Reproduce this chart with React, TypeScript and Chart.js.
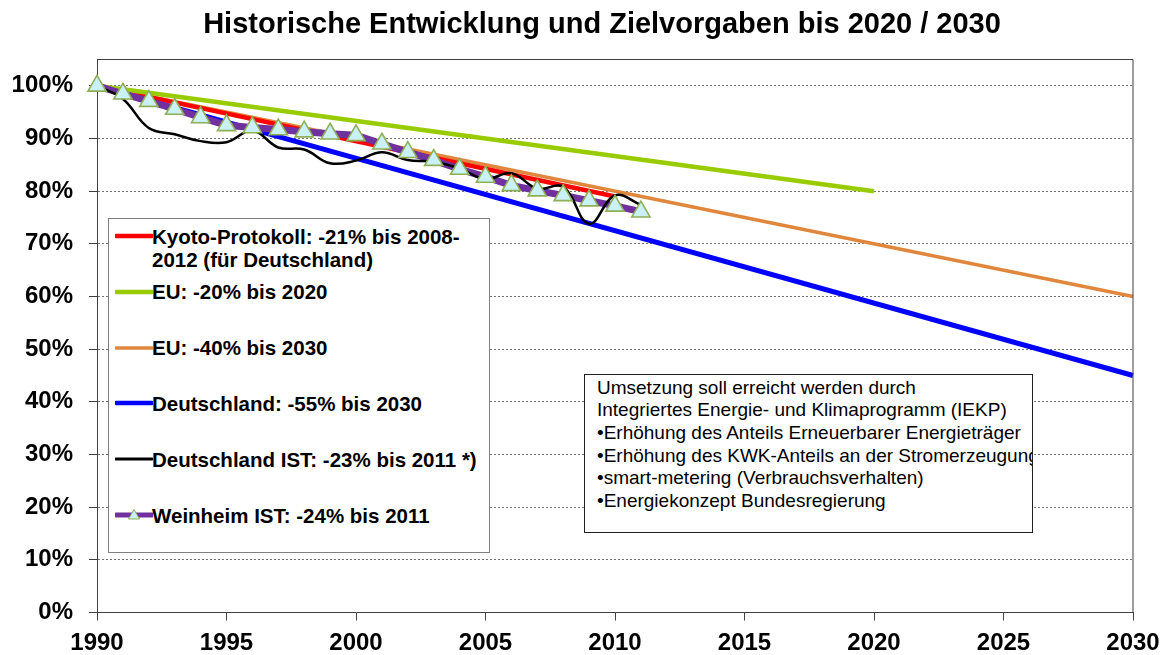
import React, { useEffect, useRef } from 'react';
import { Chart, registerables } from 'chart.js';

Chart.register(...registerables);

// ---------- data ----------
const istYears = [1990, 1991, 1992, 1993, 1994, 1995, 1996, 1997, 1998, 1999, 2000, 2001, 2002, 2003, 2004, 2005, 2006, 2007, 2008, 2009, 2010, 2011];
const deutschlandIstValues = [100, 97.5, 92, 90.8, 89.5, 89.3, 91.5, 88.3, 87.9, 85.3, 85.8, 87.4, 85.9, 85.6, 84.3, 82.3, 83.4, 80.5, 80.8, 73.8, 79.2, 77.4];
const weinheimIstValues = [100, 98.5, 97.1, 95.6, 94.0, 92.5, 92.1, 91.7, 91.3, 90.9, 90.6, 89.0, 87.4, 85.9, 84.2, 82.7, 81.1, 80.1, 79.2, 78.2, 77.2, 76.1];

const kyotoYears = [1990, 2010];
const kyotoValues = [100, 79];
const eu2020Years = [1990, 2020];
const eu2020Values = [100, 80];
const eu2030Years = [1990, 2030];
const eu2030Values = [100, 60];
const deutschlandYears = [1990, 2030];
const deutschlandValues = [100, 45];

const xMin = 1990;
const xMax = 2030;
const xStep = 5;
const yMin = 0;
const yMax = 105;
const yStep = 10;

const titleText = 'Historische Entwicklung und Zielvorgaben bis 2020 / 2030';

const legendLabels = [
  ['Kyoto-Protokoll: -21% bis 2008-', '2012 (für Deutschland)'],
  ['EU: -20% bis 2020'],
  ['EU: -40% bis 2030'],
  ['Deutschland: -55% bis 2030'],
  ['Deutschland IST: -23% bis 2011 *)'],
  ['Weinheim IST: -24% bis 2011'],
];

const noteLines = [
  'Umsetzung soll erreicht werden durch',
  'Integriertes Energie- und Klimaprogramm (IEKP)',
  '•Erhöhung des Anteils Erneuerbarer Energieträger',
  '•Erhöhung des KWK-Anteils an der Stromerzeugung',
  '•smart-metering (Verbrauchsverhalten)',
  '•Energiekonzept Bundesregierung',
];

// ---------- styles ----------
const FONT = '"Liberation Sans", Arial, Helvetica, sans-serif';
const C_RED = '#FF0000';
const C_GREEN = '#99CC00';
const C_ORANGE = '#E0873D';
const C_BLUE = '#0000FF';
const C_BLACK = '#000000';
const C_PURPLE = '#7030A0';
const C_TRI_FILL = '#C9F1F7';
const C_TRI_BORDER = '#8FAF55';

const legendStyles = [
  { color: C_RED, width: 4.5, marker: false },
  { color: C_GREEN, width: 4.5, marker: false },
  { color: C_ORANGE, width: 3.5, marker: false },
  { color: C_BLUE, width: 4.5, marker: false },
  { color: C_BLACK, width: 3, marker: false },
  { color: C_PURPLE, width: 5, marker: true },
];

const pts = (xs: number[], ys: number[]) => xs.map((x, i) => ({ x, y: ys[i] }));

const frameBorder = {
  id: 'frameBorder',
  afterDraw(chart: any) {
    const { ctx, chartArea } = chart;
    ctx.save();
    ctx.strokeStyle = '#404040';
    ctx.lineWidth = 1;
    ctx.beginPath();
    ctx.moveTo(chartArea.left, chartArea.top);
    ctx.lineTo(chartArea.right, chartArea.top);
    ctx.lineTo(chartArea.right, chartArea.bottom);
    ctx.stroke();
    ctx.restore();
  },
};

export default function App() {
  const canvasRef = useRef<HTMLCanvasElement | null>(null);

  useEffect(() => {
    if (!canvasRef.current) return;
    const lineBase = { pointRadius: 0, pointHoverRadius: 0, fill: false, clip: false as any };
    const chart = new Chart(canvasRef.current, {
      type: 'line',
      data: {
        datasets: [
          {
            label: 'Weinheim IST markers',
            data: pts(istYears, weinheimIstValues),
            showLine: false,
            pointStyle: 'triangle',
            pointRadius: 10.5,
            pointHoverRadius: 10.5,
            pointBackgroundColor: C_TRI_FILL,
            pointBorderColor: C_TRI_BORDER,
            pointBorderWidth: 1.6,
            backgroundColor: C_TRI_FILL,
            borderColor: C_TRI_BORDER,
            order: 0,
            clip: false as any,
          },
          {
            ...lineBase,
            label: 'Deutschland IST',
            data: pts(istYears, deutschlandIstValues),
            borderColor: C_BLACK,
            borderWidth: 2.5,
            tension: 0.4,
            order: 1,
          },
          {
            ...lineBase,
            label: 'Weinheim IST',
            data: pts(istYears, weinheimIstValues),
            borderColor: C_PURPLE,
            borderWidth: 7,
            tension: 0,
            order: 2,
          },
          {
            ...lineBase,
            label: 'EU 2020',
            data: pts(eu2020Years, eu2020Values),
            borderColor: C_GREEN,
            borderWidth: 4.5,
            order: 3,
          },
          {
            ...lineBase,
            label: 'Kyoto',
            data: pts(kyotoYears, kyotoValues),
            borderColor: C_RED,
            borderWidth: 4.5,
            order: 4,
          },
          {
            ...lineBase,
            label: 'EU 2030',
            data: pts(eu2030Years, eu2030Values),
            borderColor: C_ORANGE,
            borderWidth: 3.5,
            order: 5,
          },
          {
            ...lineBase,
            label: 'Deutschland',
            data: pts(deutschlandYears, deutschlandValues),
            borderColor: C_BLUE,
            borderWidth: 5,
            order: 6,
          },
        ],
      },
      options: {
        responsive: false,
        animation: false,
        events: [],
        layout: { padding: { left: 0, right: 35, top: 59.5, bottom: 0 } },
        plugins: {
          legend: { display: false },
          tooltip: { enabled: false },
          title: { display: false },
        },
        scales: {
          x: {
            type: 'linear',
            min: xMin,
            max: xMax,
            afterFit: (s: any) => { s.height = 42.5; },
            ticks: {
              stepSize: xStep,
              color: '#000',
              font: { family: FONT, size: 24, weight: 'bold' },
              padding: 8,
              maxRotation: 0,
              autoSkip: false,
              callback: (v: any) => String(v),
            },
            grid: { drawOnChartArea: false, drawTicks: true, tickLength: 8, color: '#404040', tickColor: '#404040' },
            border: { display: true, color: '#404040', width: 1 },
          },
          y: {
            min: yMin,
            max: yMax,
            afterFit: (s: any) => { s.width = 97; },
            ticks: {
              stepSize: yStep,
              includeBounds: false,
              color: '#000',
              font: { family: FONT, size: 24, weight: 'bold' },
              padding: 16,
              callback: (v: any) => v + '%',
            },
            grid: { color: 'rgba(0,0,0,0.55)', lineWidth: 1, tickLength: 8, tickColor: '#404040', tickWidth: 1 },
            border: { display: true, color: '#404040', width: 1, dash: [2, 2] },
          },
        },
      },
      plugins: [frameBorder],
    });
    return () => chart.destroy();
  }, []);

  const legendTop = 218;
  const legendLeft = 108;
  const rowStep = 55.8;
  const firstRowCenter = 17;
  const textLine = 23;

  return (
    <div style={{ position: 'fixed', left: 0, top: 0, width: 1168, height: 655, overflow: 'hidden', background: '#fff' }}>
      <canvas ref={canvasRef} width={1168} height={655} style={{ position: 'absolute', left: 0, top: 0, width: 1168, height: 655 }} />
      <div
        style={{
          position: 'absolute',
          left: 0,
          top: 6,
          width: 1204,
          textAlign: 'center',
          fontFamily: FONT,
          fontWeight: 'bold',
          fontSize: 29,
          lineHeight: '34px',
          color: '#000',
          whiteSpace: 'nowrap',
        }}
      >
        {titleText}
      </div>
      <div
        style={{
          position: 'absolute',
          left: legendLeft,
          top: legendTop,
          width: 382,
          height: 335,
          boxSizing: 'border-box',
          border: '1.5px solid #7F7F7F',
          background: '#fff',
          fontFamily: FONT,
          fontWeight: 'bold',
          fontSize: 20.5,
          color: '#000',
        }}
      >
        {legendLabels.map((lines, i) => {
          const cy = firstRowCenter + rowStep * i;
          const st = legendStyles[i];
          return (
            <React.Fragment key={i}>
              <svg width={38} height={16} style={{ position: 'absolute', left: 6, top: cy - 8 }}>
                <line x1={1} y1={8} x2={37} y2={8} stroke={st.color} strokeWidth={st.width} strokeLinecap="round" />
                {st.marker ? (
                  <polygon points="19,2.5 24.5,12 13.5,12" fill={C_TRI_FILL} stroke={C_TRI_BORDER} strokeWidth={1} />
                ) : null}
              </svg>
              <div
                style={{
                  position: 'absolute',
                  left: 43,
                  top: cy - textLine / 2,
                  lineHeight: textLine + 'px',
                  whiteSpace: 'nowrap',
                }}
              >
                {lines.map((t, j) => (
                  <div key={j}>{t}</div>
                ))}
              </div>
            </React.Fragment>
          );
        })}
      </div>
      <div
        style={{
          position: 'absolute',
          left: 584,
          top: 373.5,
          width: 449,
          height: 159,
          boxSizing: 'border-box',
          border: '1.5px solid #202020',
          background: '#fff',
          fontFamily: FONT,
          fontSize: 19,
          color: '#000',
          paddingLeft: 12,
          paddingTop: 2,
          lineHeight: '22.7px',
          whiteSpace: 'nowrap',
          overflow: 'hidden',
        }}
      >
        {noteLines.map((t, i) => (
          <div key={i}>{t}</div>
        ))}
      </div>
    </div>
  );
}
